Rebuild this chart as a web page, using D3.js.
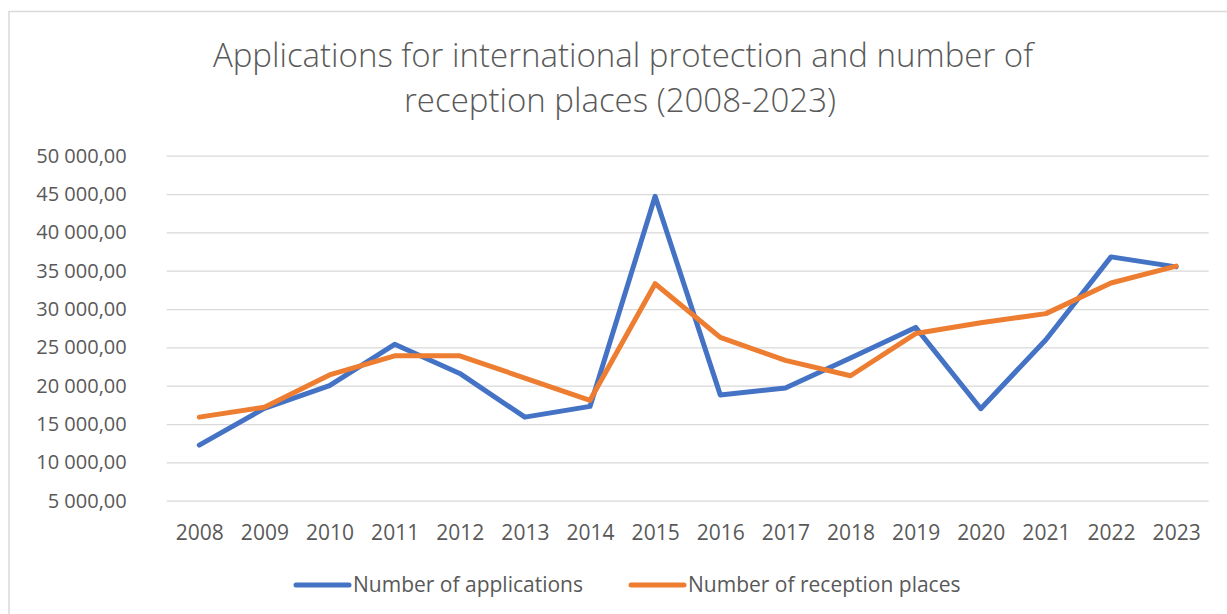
<!DOCTYPE html>
<html>
<head>
<meta charset="utf-8">
<script src="https://cdn.jsdelivr.net/npm/d3@7"></script>
<style>
  body { margin: 0; background: #fff; }
  svg text { font-family: "Open Sans", sans-serif; fill: #595959; }
</style>
</head>
<body>
<div id="graph"></div>
<script>
var years = ["2008","2009","2010","2011","2012","2013","2014","2015","2016","2017","2018","2019","2020","2021","2022","2023"];
var applications = [12250, 17050, 20000, 25400, 21600, 15900, 17300, 44700, 18800, 19700, 23600, 27600, 17000, 26000, 36800, 35500];
var receptionPlaces = [15900, 17200, 21400, 23900, 23900, 21000, 18100, 33300, 26300, 23300, 21300, 26800, 28200, 29400, 33400, 35600];
var yTicks = [5000, 10000, 15000, 20000, 25000, 30000, 35000, 40000, 45000, 50000];
var seriesNames = ["Number of applications", "Number of reception places"];
var colors = ["#4472C4", "#ED7D31"];

var w = 1227, h = 614;
var vis = d3.select("#graph").append("svg")
  .attr("width", w)
  .attr("height", h);

// chart frame
vis.append("rect")
  .attr("x", 9).attr("y", 11.5)
  .attr("width", 1240).attr("height", 620)
  .attr("fill", "none")
  .attr("stroke", "#d9d9d9")
  .attr("stroke-width", 1.5);

// title
var title = vis.append("text")
  .attr("text-anchor", "middle")
  .style("font-size", "33px")
  .style("font-weight", 300);
title.append("tspan").attr("x", 623).attr("y", 67).text("Applications for international protection and number of");
title.append("tspan").attr("x", 620).attr("y", 112).text("reception places (2008-2023)");

var x = d3.scalePoint()
  .domain(years)
  .range([166.7, 1208.7])
  .padding(0.5);

var y = d3.scaleLinear()
  .domain([5000, 50000])
  .range([500.7, 155.7]);

var locale = d3.formatLocale({decimal: ",", thousands: " ", grouping: [3], currency: ["", ""]});
var fmt = locale.format(",.2f");

// gridlines + y labels
var yAxis = d3.axisLeft(y)
  .tickValues(yTicks)
  .tickSize(-(1208.7 - 166.7))
  .tickPadding(40)
  .tickFormat(fmt);

var gy = vis.append("g")
  .attr("transform", "translate(166.7,0)")
  .call(yAxis);
gy.select(".domain").remove();
gy.selectAll(".tick line")
  .attr("stroke", "#d9d9d9")
  .attr("stroke-width", 1.3);
gy.selectAll(".tick text")
  .style("font-size", "20px")
  .attr("fill", "#595959");

// x labels
var xAxis = d3.axisBottom(x).tickSize(0).tickPadding(0);
var gx = vis.append("g")
  .attr("transform", "translate(0,540)")
  .call(xAxis);
gx.select(".domain").remove();
gx.selectAll(".tick text")
  .style("font-size", "21px")
  .attr("fill", "#595959")
  .attr("dy", "0");

// lines
var line = d3.line()
  .x(function(d, i) { return x(years[i]); })
  .y(function(d) { return y(d); });

[applications, receptionPlaces].forEach(function(series, k) {
  vis.append("path")
    .datum(series)
    .attr("d", line)
    .attr("fill", "none")
    .attr("stroke", colors[k])
    .attr("stroke-width", 5)
    .attr("stroke-linejoin", "round")
    .attr("stroke-linecap", "round");
});

// legend
var legendX = [294, 629];
seriesNames.forEach(function(name, k) {
  vis.append("line")
    .attr("x1", legendX[k] + 2).attr("x2", legendX[k] + 55)
    .attr("y1", 585).attr("y2", 585)
    .attr("stroke", colors[k])
    .attr("stroke-width", 5)
    .attr("stroke-linecap", "round");
  vis.append("text")
    .attr("x", legendX[k] + 59)
    .attr("y", 592)
    .style("font-size", "21px")
    .text(name);
});
</script>
</body>
</html>
